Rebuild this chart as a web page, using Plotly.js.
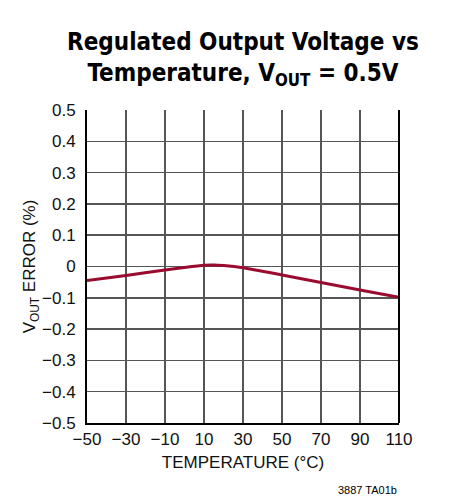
<!DOCTYPE html>
<html>
<head>
<meta charset="utf-8">
<script src="https://cdn.plot.ly/plotly-3.0.1.min.js"></script>
<style>
  html, body { margin: 0; padding: 0; background: #fff; }
  #chart { width: 453px; height: 500px; }
</style>
</head>
<body>
<div id="chart"></div>
<script>
// temperature (°C) and output voltage error (%)
var temperature = [-50, -30, -10, 0, 10, 15, 20, 30, 50, 70, 90, 110];
var voutError = [-0.045, -0.029, -0.011, -0.003, 0.004, 0.005, 0.003, -0.004, -0.027, -0.051, -0.075, -0.098];

var xTicks = [-50, -30, -10, 10, 30, 50, 70, 90, 110];
var xTickText = ['\u221250', '\u221230', '\u221210', '10', '30', '50', '70', '90', '110'];
var yTicks = [-0.5, -0.4, -0.3, -0.2, -0.1, 0, 0.1, 0.2, 0.3, 0.4, 0.5];
var yTickText = ['\u22120.5', '\u22120.4', '\u22120.3', '\u22120.2', '\u22120.1', '0', '0.1', '0.2', '0.3', '0.4', '0.5'];

var font = 'Liberation Sans Narrow, Arial Narrow, Liberation Sans, sans-serif';
var titleFont = 'DejaVu Sans Condensed, Liberation Sans, sans-serif';

var plotdata = [{
    x: temperature,
    y: voutError,
    mode: 'lines',
    type: 'scatter',
    line: {color: '#9b0a2f', width: 3, shape: 'spline', smoothing: 0.6},
    hoverinfo: 'none'
}];

var layout = {
    width: 453,
    height: 500,
    margin: {l: 87, r: 54, t: 110, b: 77},
    paper_bgcolor: '#fff',
    plot_bgcolor: '#fff',
    showlegend: false,
    font: {family: font, color: '#111', size: 17},
    title: {
        text: 'Regulated Output Voltage vs<br>Temperature, V<sub>OUT</sub> = 0.5V',
        font: {family: titleFont, size: 24, color: '#000', weight: 'bold'},
        x: 0.5,
        xref: 'paper',
        xanchor: 'center',
        y: 0.9,
        yref: 'container',
        yanchor: 'middle'
    },
    xaxis: {
        range: [-50, 110],
        tickvals: xTicks,
        ticktext: xTickText,
        showgrid: true,
        gridcolor: '#555',
        gridwidth: 1.5,
        zeroline: false,
        showline: true,
        linecolor: '#000',
        linewidth: 2,
        ticks: '',
        title: {text: 'TEMPERATURE (°C)', font: {family: font, size: 17}, standoff: 8},
        fixedrange: true
    },
    yaxis: {
        range: [-0.5, 0.5],
        tickvals: yTicks,
        ticktext: yTickText,
        showgrid: true,
        gridcolor: '#555',
        gridwidth: 1.5,
        zeroline: false,
        showline: true,
        linecolor: '#000',
        linewidth: 2,
        ticks: '',
        ticklabelstandoff: 6,
        title: {text: 'V<sub>OUT</sub> ERROR (%)', font: {family: font, size: 17}, standoff: 0},
        fixedrange: true
    },
    shapes: [{
        type: 'line', xref: 'paper', yref: 'paper',
        x0: 1, x1: 1, y0: 0, y1: 1,
        line: {color: '#000', width: 2}
    }],
    annotations: [{
        text: '3887 TA01b',
        xref: 'paper', yref: 'paper',
        x: 1, y: -0.215,
        xanchor: 'right', yanchor: 'middle',
        showarrow: false,
        font: {family: font, size: 11, color: '#000'}
    }]
};

Plotly.newPlot(document.getElementById('chart'), plotdata, layout, {staticPlot: true});
</script>
</body>
</html>
